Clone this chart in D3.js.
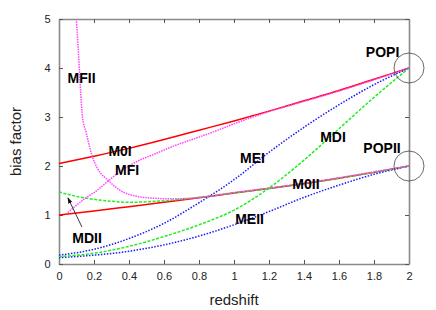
<!DOCTYPE html>
<html>
<head>
<meta charset="utf-8">
<script src="https://cdn.jsdelivr.net/npm/d3@7"></script>
<style>
  body { margin: 0; background: #fff; }
  text { font-family: "Liberation Sans", Arial, sans-serif; }
</style>
</head>
<body>
<div id="chart"></div>
<script>
// curves: [redshift, bias]
const m0I  = [[0,2.05],[0.2,2.2],[0.4,2.36],[0.6,2.54],[0.8,2.73],[1.0,2.92],[1.2,3.12],[1.4,3.33],[1.6,3.54],[1.8,3.77],[2.0,4.0]];
const m0II = [[0,1.0],[0.2,1.08],[0.4,1.17],[0.6,1.26],[0.8,1.35],[1.0,1.45],[1.2,1.54],[1.4,1.64],[1.6,1.75],[1.8,1.87],[2.0,2.0]];
const mFI  = [[0.05,1.05],[0.1,1.2],[0.15,1.34],[0.22,1.51],[0.28,1.69],[0.35,1.89],[0.45,2.1],[0.55,2.25],[0.65,2.4],[0.8,2.59],[0.9,2.72],[1.0,2.86],[1.1,2.99],[1.2,3.11],[1.4,3.32],[1.6,3.53],[1.8,3.76],[2.0,4.0]];
const mFII = [[0.099,5.0],[0.108,4.5],[0.116,4.0],[0.124,3.5],[0.134,3.0],[0.154,2.7],[0.167,2.5],[0.19,2.2],[0.22,1.95],[0.28,1.71],[0.36,1.48],[0.45,1.38],[0.55,1.34],[0.65,1.33],[0.75,1.34],[0.85,1.38],[1.0,1.46],[1.2,1.55],[1.4,1.65],[1.6,1.76],[1.8,1.88],[2.0,2.0]];
const mEI  = [[0,0.18],[0.2,0.3],[0.4,0.52],[0.6,0.83],[0.8,1.25],[1.0,1.72],[1.2,2.28],[1.4,2.79],[1.6,3.25],[1.8,3.66],[2.0,4.0]];
const mEII = [[0,0.13],[0.2,0.18],[0.4,0.26],[0.6,0.39],[0.8,0.57],[1.0,0.8],[1.2,1.07],[1.4,1.36],[1.6,1.61],[1.8,1.83],[2.0,2.0]];
const mDI  = [[0,0.15],[0.2,0.22],[0.4,0.36],[0.6,0.56],[0.8,0.8],[1.0,1.1],[1.2,1.55],[1.4,2.12],[1.6,2.76],[1.8,3.4],[2.0,4.0]];
const mDII = [[0,1.47],[0.1,1.38],[0.2,1.32],[0.3,1.28],[0.4,1.26],[0.6,1.29],[0.8,1.36],[1.0,1.45],[1.2,1.54],[1.4,1.64],[1.6,1.75],[1.8,1.87],[2.0,2.0]];

// labels (centre x, baseline y in data units)
const labelText = ["MFII", "M0I", "MFI", "MDII", "MEI", "MDI", "M0II", "MEII", "POPI", "POPII"];
const labelZ    = [0.129, 0.349, 0.389, 0.16, 1.106, 1.566, 1.411, 1.089, 1.849, 1.846];
const labelB    = [3.69, 2.20, 1.82, 0.43, 2.06, 2.49, 1.53, 0.82, 4.22, 2.27];

// circled points and the MDII arrow
const popPoints = [[2, 4], [2, 2]];
const arrowFrom = [0.131, 0.755];
const arrowTo   = [0.051, 1.35];

const xTicks = [0, 0.2, 0.4, 0.6, 0.8, 1, 1.2, 1.4, 1.6, 1.8, 2];
const yTicks = [0, 1, 2, 3, 4, 5];

const width = 436;
const height = 310;
const marginTop = 19;
const marginRight = 27;
const marginBottom = 46;
const marginLeft = 59;

const x = d3.scaleLinear([0, 2], [marginLeft, width - marginRight]);
const y = d3.scaleLinear([0, 5], [height - marginBottom, marginTop]);

const svg = d3.select("#chart").append("svg")
	.attr("width", width)
	.attr("height", height);

svg.append("defs").append("marker")
	.attr("id", "head")
	.attr("viewBox", "0 0 10 10")
	.attr("refX", 9).attr("refY", 5)
	.attr("markerWidth", 7).attr("markerHeight", 7)
	.attr("orient", "auto")
	.append("path")
	.attr("d", "M0,1.5 L10,5 L0,8.5 Z")
	.attr("fill", "#111");

// frame with inward ticks on all four sides
const axisColor = "#8a8a8a";
const axes = [
	[d3.axisBottom(x), `translate(0,${y(0)})`],
	[d3.axisTop(x), `translate(0,${y(5)})`]
];
axes.forEach(([ax, tr], i) => {
	svg.append("g")
		.attr("transform", tr)
		.call(ax.tickValues(xTicks).tickSizeInner(-4).tickSizeOuter(0)
			.tickFormat(i === 0 ? d => d3.format("")(d) : ""))
		.call(g => g.select(".domain").attr("stroke", axisColor).attr("stroke-width", 1.6))
		.call(g => g.selectAll(".tick line").attr("stroke", "#555"))
		.call(g => g.selectAll(".tick text").attr("font-size", 11).attr("fill", "#222").attr("dy", "1.2em"));
});
[[d3.axisLeft(y), `translate(${x(0)},0)`], [d3.axisRight(y), `translate(${x(2)},0)`]].forEach(([ax, tr], i) => {
	svg.append("g")
		.attr("transform", tr)
		.call(ax.tickValues(yTicks).tickSizeInner(-4).tickSizeOuter(0)
			.tickFormat(i === 0 ? d3.format("") : ""))
		.call(g => g.select(".domain").attr("stroke", axisColor).attr("stroke-width", 1.6))
		.call(g => g.selectAll(".tick line").attr("stroke", "#555"))
		.call(g => g.selectAll(".tick text").attr("font-size", 11).attr("fill", "#222").attr("dx", "-0.5em"));
});

// curves
const line = d3.line()
	.x(d => x(d[0]))
	.y(d => y(d[1]))
	.curve(d3.curveMonotoneX);

const series = [
	[m0I,  "#ff0000", null],
	[m0II, "#ff0000", null],
	[mEI,  "#1a1aff", "1.5,1.5"],
	[mEII, "#1a1aff", "1.5,1.5"],
	[mDI,  "#22ee22", "3,1.5"],
	[mDII, "#22ee22", "3,1.5"],
	[mFI,  "#ff44ff", "1.5,1"],
	[mFII, "#ff44ff", "1.5,1"]
];
series.forEach(([data, color, dash]) => {
	svg.append("path")
		.datum(data)
		.attr("fill", "none")
		.attr("stroke", color)
		.attr("stroke-width", 1.5)
		.attr("stroke-dasharray", dash)
		.attr("d", line);
});

// circles round the POP points
svg.selectAll("circle.pop")
	.data(popPoints)
	.join("circle")
	.attr("cx", d => x(d[0]))
	.attr("cy", d => y(d[1]))
	.attr("r", 15)
	.attr("fill", "none")
	.attr("stroke", "#444")
	.attr("stroke-width", 0.8);

// arrow to MDII
svg.append("line")
	.attr("x1", x(arrowFrom[0])).attr("y1", y(arrowFrom[1]))
	.attr("x2", x(arrowTo[0])).attr("y2", y(arrowTo[1]))
	.attr("stroke", "#222")
	.attr("stroke-width", 0.9)
	.attr("marker-end", "url(#head)");

// labels
svg.selectAll("text.lab")
	.data(labelText)
	.join("text")
	.attr("x", (d, i) => x(labelZ[i]))
	.attr("y", (d, i) => y(labelB[i]))
	.attr("text-anchor", "middle")
	.attr("font-size", 14)
	.attr("font-weight", "bold")
	.attr("fill", "#000")
	.text(d => d);

// axis titles
svg.append("text")
	.attr("x", (x(0) + x(2)) / 2)
	.attr("y", 305)
	.attr("text-anchor", "middle")
	.attr("font-size", 15)
	.attr("fill", "#222")
	.text("redshift");

svg.append("text")
	.attr("transform", `translate(21,${(y(0) + y(5)) / 2}) rotate(-90)`)
	.attr("text-anchor", "middle")
	.attr("font-size", 15)
	.attr("fill", "#222")
	.text("bias factor");
</script>
</body>
</html>
